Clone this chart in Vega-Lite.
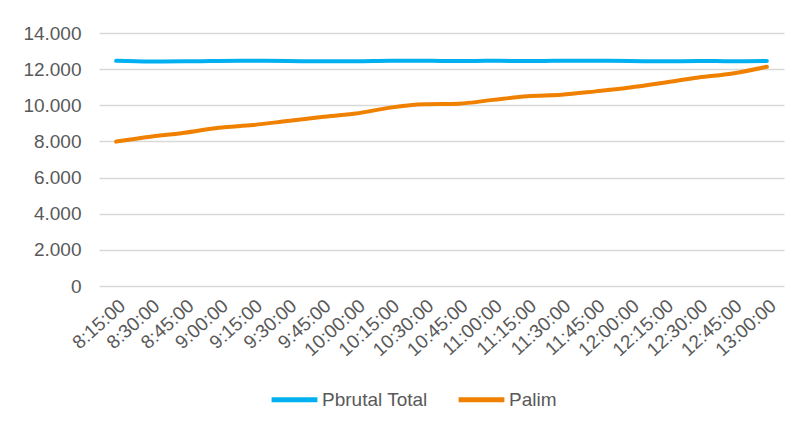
{
  "$schema": "https://vega.github.io/schema/vega-lite/v6.json",
  "width": 685,
  "height": 253,
  "padding": {"left": 22, "top": 24, "right": 16, "bottom": 10},
  "background": "white",
  "config": {
    "locale": {"number": {"decimal": ",", "thousands": ".", "grouping": [3], "currency": ["", " €"]}},
    "view": {"stroke": null},
    "font": "Liberation Sans",
    "axis": {"labelColor": "#595959", "labelFont": "Liberation Sans", "domain": false, "ticks": false, "gridColor": "#d9d9d9", "gridWidth": 1.3},
    "legend": {"labelColor": "#595959", "labelFont": "Liberation Sans"}
  },
  "data": {
    "values": [
      {"time": "8:15:00", "series": "Pbrutal Total", "value": 12460},
      {"time": "8:30:00", "series": "Pbrutal Total", "value": 12420},
      {"time": "8:45:00", "series": "Pbrutal Total", "value": 12430},
      {"time": "9:00:00", "series": "Pbrutal Total", "value": 12450},
      {"time": "9:15:00", "series": "Pbrutal Total", "value": 12460},
      {"time": "9:30:00", "series": "Pbrutal Total", "value": 12450},
      {"time": "9:45:00", "series": "Pbrutal Total", "value": 12430},
      {"time": "10:00:00", "series": "Pbrutal Total", "value": 12430},
      {"time": "10:15:00", "series": "Pbrutal Total", "value": 12460},
      {"time": "10:30:00", "series": "Pbrutal Total", "value": 12460},
      {"time": "10:45:00", "series": "Pbrutal Total", "value": 12450},
      {"time": "11:00:00", "series": "Pbrutal Total", "value": 12460},
      {"time": "11:15:00", "series": "Pbrutal Total", "value": 12450},
      {"time": "11:30:00", "series": "Pbrutal Total", "value": 12460},
      {"time": "11:45:00", "series": "Pbrutal Total", "value": 12460},
      {"time": "12:00:00", "series": "Pbrutal Total", "value": 12450},
      {"time": "12:15:00", "series": "Pbrutal Total", "value": 12430},
      {"time": "12:30:00", "series": "Pbrutal Total", "value": 12450},
      {"time": "12:45:00", "series": "Pbrutal Total", "value": 12440},
      {"time": "13:00:00", "series": "Pbrutal Total", "value": 12450},
      {"time": "8:15:00", "series": "Palim", "value": 7990},
      {"time": "8:30:00", "series": "Palim", "value": 8260},
      {"time": "8:45:00", "series": "Palim", "value": 8480},
      {"time": "9:00:00", "series": "Palim", "value": 8760},
      {"time": "9:15:00", "series": "Palim", "value": 8910},
      {"time": "9:30:00", "series": "Palim", "value": 9130},
      {"time": "9:45:00", "series": "Palim", "value": 9350},
      {"time": "10:00:00", "series": "Palim", "value": 9540},
      {"time": "10:15:00", "series": "Palim", "value": 9870},
      {"time": "10:30:00", "series": "Palim", "value": 10060},
      {"time": "10:45:00", "series": "Palim", "value": 10090},
      {"time": "11:00:00", "series": "Palim", "value": 10300},
      {"time": "11:15:00", "series": "Palim", "value": 10500},
      {"time": "11:30:00", "series": "Palim", "value": 10580},
      {"time": "11:45:00", "series": "Palim", "value": 10770},
      {"time": "12:00:00", "series": "Palim", "value": 10980},
      {"time": "12:15:00", "series": "Palim", "value": 11250},
      {"time": "12:30:00", "series": "Palim", "value": 11540},
      {"time": "12:45:00", "series": "Palim", "value": 11760},
      {"time": "13:00:00", "series": "Palim", "value": 12130}
    ]
  },
  "mark": {"type": "line", "strokeWidth": 4, "strokeCap": "round", "strokeJoin": "round", "interpolate": "monotone"},
  "encoding": {
    "x": {
      "field": "time", "type": "ordinal", "sort": null,
      "scale": {"type": "point", "padding": 0.5},
      "axis": {"title": null, "labelAngle": -42, "labelFontSize": 19, "grid": false, "labelPadding": 10}
    },
    "y": {
      "field": "value", "type": "quantitative",
      "scale": {"domain": [0, 14000], "nice": false},
      "axis": {"title": null, "values": [0, 2000, 4000, 6000, 8000, 10000, 12000, 14000], "format": ",.0f", "labelFontSize": 19, "labelPadding": 18}
    },
    "color": {
      "field": "series", "type": "nominal",
      "scale": {"domain": ["Pbrutal Total", "Palim"], "range": ["#00B0F0", "#F08000"]},
      "legend": {"title": null, "orient": "none", "legendX": 170, "legendY": 341, "direction": "horizontal", "symbolType": "stroke", "symbolStrokeWidth": 5, "symbolSize": 2100, "labelFontSize": 19, "columnPadding": 20, "labelOffset": 2}
    }
  }
}
